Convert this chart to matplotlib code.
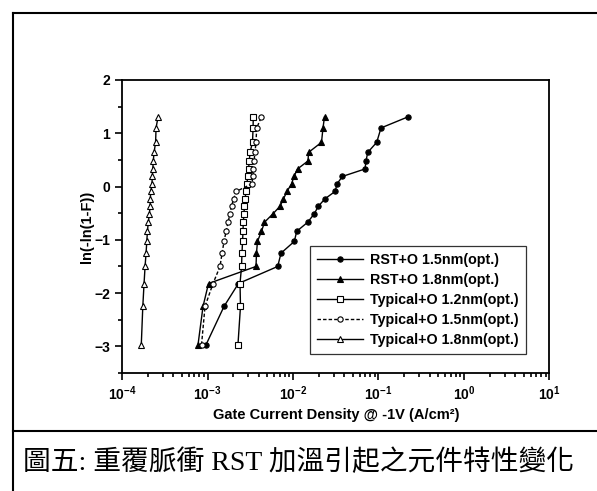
import matplotlib as mpl
mpl.use('Agg')

import matplotlib.pyplot as plt
from matplotlib.lines import Line2D
from matplotlib.ticker import LogLocator, MultipleLocator

plt.rcParams['font.family'] = ['Liberation Sans', 'Noto Sans CJK TC']
plt.rcParams['font.weight'] = 'bold'
plt.rcParams['mathtext.fontset'] = 'custom'
plt.rcParams['mathtext.rm'] = 'Liberation Sans:bold'
plt.rcParams['mathtext.bf'] = 'Liberation Sans:bold'
plt.rcParams['mathtext.default'] = 'bf'

# --- dados ---
# niveis ln(-ln(1-F)) (iguais para as cinco series)
y_niveis = [-2.97, -2.25, -1.82, -1.50, -1.25, -1.03, -0.84, -0.67, -0.51, -0.37,
            -0.23, -0.09, 0.05, 0.19, 0.33, 0.48, 0.64, 0.83, 1.10, 1.31]

# densidade de corrente (A/cm^2)
rst_15 = [9.6e-4, 1.56e-3, 2.30e-3, 6.62e-3, 7.24e-3, 1.036e-2, 1.105e-2, 1.486e-2,
          1.775e-2, 1.977e-2, 2.367e-2, 3.116e-2, 3.27e-2, 3.79e-2, 6.95e-2,
          7.14e-2, 7.48e-2, 9.53e-2, 0.107, 0.223]
rst_18 = [7.74e-4, 8.86e-4, 1.027e-3, 3.69e-3, 3.74e-3, 3.84e-3, 4.28e-3, 4.64e-3,
          5.84e-3, 7.05e-3, 7.74e-3, 8.51e-3, 9.61e-3, 1.027e-2, 1.129e-2,
          1.498e-2, 1.518e-2, 2.154e-2, 2.243e-2, 2.336e-2]
typ_12 = [2.27e-3, 2.43e-3, 2.40e-3, 2.50e-3, 2.53e-3, 2.57e-3, 2.60e-3, 2.62e-3,
          2.67e-3, 2.70e-3, 2.75e-3, 2.82e-3, 2.87e-3, 2.98e-3, 3.02e-3,
          3.08e-3, 3.14e-3, 3.36e-3, 3.41e-3, 3.43e-3]
typ_15 = [8.51e-4, 9.35e-4, 1.16e-3, 1.40e-3, 1.48e-3, 1.56e-3, 1.65e-3, 1.74e-3,
          1.83e-3, 1.91e-3, 2.02e-3, 2.18e-3, 3.29e-3, 3.41e-3, 3.45e-3,
          3.50e-3, 3.59e-3, 3.69e-3, 3.76e-3, 4.28e-3]
typ_18 = [1.68e-4, 1.75e-4, 1.81e-4, 1.86e-4, 1.91e-4, 1.95e-4, 1.98e-4, 2.03e-4,
          2.09e-4, 2.13e-4, 2.14e-4, 2.17e-4, 2.24e-4, 2.26e-4, 2.29e-4,
          2.32e-4, 2.37e-4, 2.47e-4, 2.50e-4, 2.64e-4]

series = [
    ('RST+O 1.5nm(opt.)', rst_15, 'o', 'k', '-'),
    ('RST+O 1.8nm(opt.)', rst_18, '^', 'k', '-'),
    ('Typical+O 1.2nm(opt.)', typ_12, 's', 'white', '-'),
    ('Typical+O 1.5nm(opt.)', typ_15, 'o', 'white', (0, (2.5, 1.5))),
    ('Typical+O 1.8nm(opt.)', typ_18, '^', 'white', '-'),
]

fig = plt.figure(figsize=(5.97, 4.91), dpi=100)
ax = fig.add_axes([0.2044, 0.2403, 0.7160, 0.5968])

for nome, xs, marca, cor, estilo in series:
    ax.plot(xs, y_niveis, color='k', linestyle=estilo, linewidth=1.0,
            marker=marca, markersize=3.8, markerfacecolor=cor,
            markeredgecolor='k', markeredgewidth=0.8, label=nome)

ax.set_xscale('log')
ax.set_xlim(1e-4, 1e1)
ax.set_ylim(-3.5, 2)
ax.yaxis.set_major_locator(MultipleLocator(1))
ax.yaxis.set_minor_locator(MultipleLocator(0.5))
ax.xaxis.set_major_locator(LogLocator(base=10, numticks=10))
ax.xaxis.set_minor_locator(LogLocator(base=10, subs=range(2, 10), numticks=10))

ax.tick_params(which='both', direction='out', top=False, right=False,
               labelsize=10, width=1.2)
ax.tick_params(which='major', length=5)
ax.tick_params(which='minor', length=3)
for sp in ax.spines.values():
    sp.set_linewidth(1.3)

ax.set_xlabel('Gate Current Density @ -1V (A/cm²)', fontsize=10.5,
              fontweight='bold', labelpad=3)
ax.set_ylabel('ln(-ln(1-F))', fontsize=10.5, fontweight='bold', labelpad=0)

leg = ax.legend(loc='lower left', bbox_to_anchor=(0.44, 0.065), fontsize=10.3,
                frameon=True, fancybox=False, edgecolor='k', handlelength=3.2,
                borderpad=0.5, labelspacing=0.42, handletextpad=0.5,
                borderaxespad=0)
leg.get_frame().set_linewidth(0.9)

# moldura da figura e legenda em chines
fig.add_artist(Line2D([0.022, 0.022], [0.0, 0.974], color='k', linewidth=1.5))
fig.add_artist(Line2D([0.022, 1.0], [0.974, 0.974], color='k', linewidth=1.5))
fig.add_artist(Line2D([0.022, 1.0], [0.122, 0.122], color='k', linewidth=1.5))
fig.text(0.038, 0.058, '圖五: 重覆脈衝 RST 加溫引起之元件特性變化', fontsize=20,
         family=['Liberation Serif', 'Noto Sans CJK TC'], fontweight='normal',
         va='center', ha='left')

plt.savefig('out.png', dpi=100)
